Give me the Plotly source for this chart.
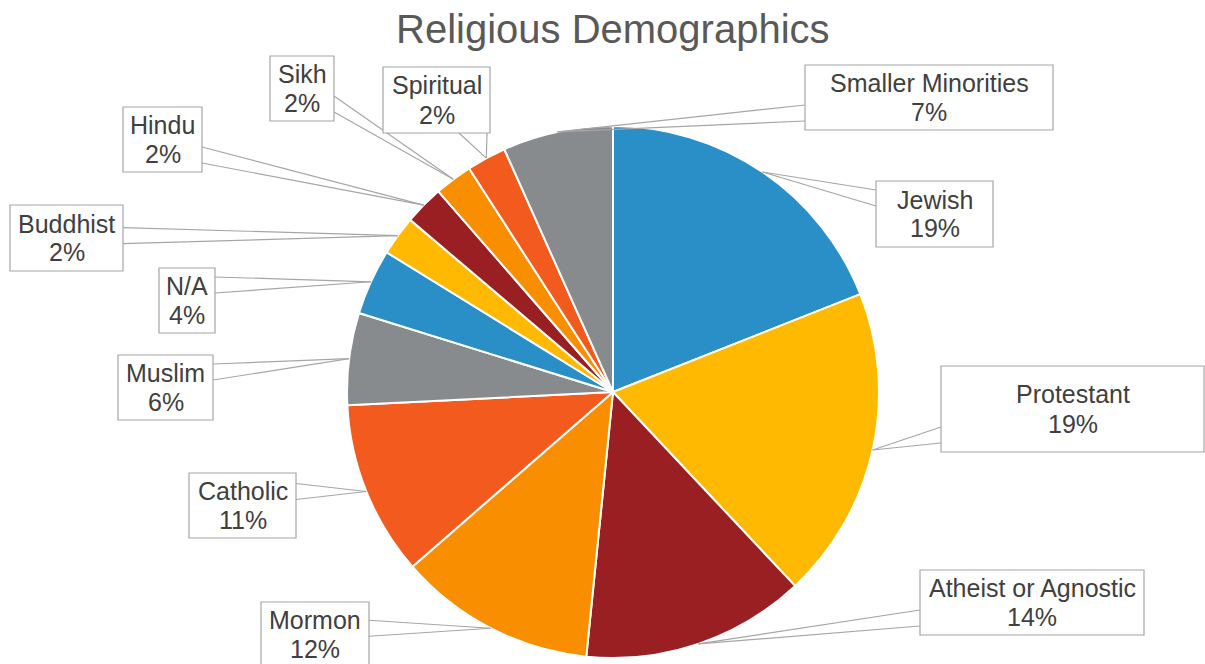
import math
import plotly.graph_objects as go

# ---- data ----
labels = ["Jewish", "Protestant", "Atheist or Agnostic", "Mormon", "Catholic", "Muslim",
          "N/A", "Buddhist", "Hindu", "Sikh", "Spiritual", "Smaller Minorities"]
values = [19.0, 19.0, 13.6, 12.0, 10.6, 5.6, 4.0, 2.4, 2.4, 2.3, 2.4, 6.7]
colors = ["#2A8FC7", "#FFB900", "#991F22", "#F98F00", "#F35A1D", "#888B8D",
          "#2A8FC7", "#FFB900", "#991F22", "#F98F00", "#F35A1D", "#888B8D"]
title_text = "Religious Demographics"

# ---- layout (pixels) ----
W, H = 1205, 664
CX, CY, R = 613, 392, 266
# callout boxes (x0, y0, x1, y1) in pixels, same order as labels
boxes = [(876, 181, 993, 247), (941, 366, 1204, 452), (920, 570, 1144, 635),
         (261, 602, 369, 666), (189, 473, 296, 538), (118, 355, 213, 420),
         (159, 268, 215, 333), (10, 205, 123, 271), (123, 107, 202, 172),
         (270, 56, 334, 121), (383, 67, 490, 133), (805, 65, 1053, 130)]

LINE_COL = "#A6A6A6"
TEXT_COL = "#404040"
FONT = "Liberation Sans, Arial, sans-serif"


def px(x):
    return x / W


def py(y):
    return 1 - y / H


fig = go.Figure()
fig.add_trace(go.Pie(
    labels=labels, values=values, sort=False, direction="clockwise", rotation=0,
    marker=dict(colors=colors, line=dict(color="white", width=2)),
    textinfo="none", showlegend=False, hoverinfo="label+percent",
    domain=dict(x=[(CX - R) / W, (CX + R) / W], y=[1 - (CY + R) / H, 1 - (CY - R) / H]),
))

total = sum(values)
shapes = []
annotations = []
cum = 0.0
MARGIN, HALF = 17, 8
for lab, v, (x0, y0, x1, y1) in zip(labels, values, boxes):
    mid = (cum + v / 2) / total
    cum += v
    th = 2 * math.pi * mid
    ax = CX + R * math.sin(th)
    ay = CY - R * math.cos(th)
    # pick box side facing the anchor
    if ax > x1:
        c = min(max(ay, y0 + MARGIN), y1 - MARGIN)
        p1, p2 = (x1, c - HALF), (x1, c + HALF)
    elif ax < x0:
        c = min(max(ay, y0 + MARGIN), y1 - MARGIN)
        p1, p2 = (x0, c - HALF), (x0, c + HALF)
    elif ay > y1:
        c = min(max(ax, x0 + MARGIN), x1 - MARGIN)
        p1, p2 = (c - HALF - 6, y1), (c + HALF + 6, y1)
    else:
        c = min(max(ax, x0 + MARGIN), x1 - MARGIN)
        p1, p2 = (c - HALF, y0), (c + HALF, y0)
    for p in (p1, p2):
        shapes.append(dict(type="line", xref="paper", yref="paper",
                           x0=px(ax), y0=py(ay), x1=px(p[0]), y1=py(p[1]),
                           line=dict(color=LINE_COL, width=1.2)))
    pct = round(v / total * 100)
    bx, by = (x0 + x1) / 2, (y0 + y1) / 2
    annotations.append(dict(xref="paper", yref="paper", x=px(bx), y=py(by - 14.5),
                            text=lab, showarrow=False, xanchor="center", yanchor="middle",
                            font=dict(family=FONT, size=25, color=TEXT_COL)))
    annotations.append(dict(xref="paper", yref="paper", x=px(bx), y=py(by + 14.5),
                            text=f"{pct}%", showarrow=False, xanchor="center", yanchor="middle",
                            font=dict(family=FONT, size=25, color=TEXT_COL)))

for (x0, y0, x1, y1) in boxes:
    shapes.append(dict(type="rect", xref="paper", yref="paper",
                       x0=px(x0), y0=py(y0), x1=px(x1), y1=py(y1),
                       fillcolor="white", line=dict(color=LINE_COL, width=1.2)))

annotations.append(dict(xref="paper", yref="paper", x=px(613), y=py(29), text=title_text,
                        showarrow=False, xanchor="center", yanchor="middle",
                        font=dict(family=FONT, size=40, color="#595959")))

fig.update_layout(
    width=W, height=H, margin=dict(l=0, r=0, t=0, b=0),
    paper_bgcolor="white", plot_bgcolor="white",
    shapes=shapes, annotations=annotations, showlegend=False,
)

fig.write_html("out.html", config={"displayModeBar": False},
               post_script="document.body.style.margin='0';document.body.style.overflow='hidden';")
